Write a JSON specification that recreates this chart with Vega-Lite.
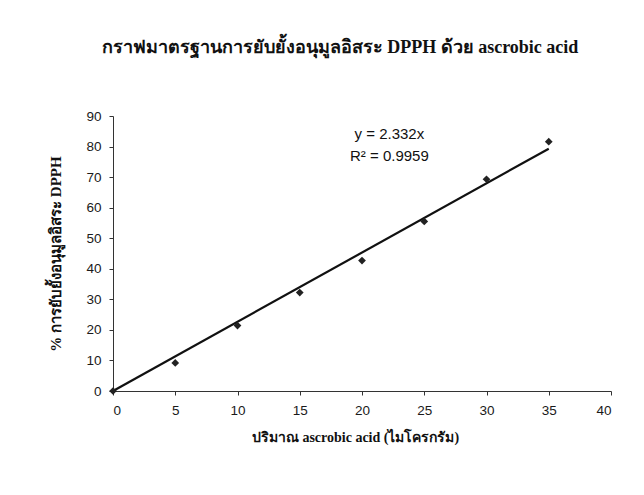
{
  "$schema": "https://vega.github.io/schema/vega-lite/v6.json",
  "width": 498,
  "height": 275,
  "autosize": "none",
  "padding": {"left": 113, "top": 116, "right": 33, "bottom": 104},
  "background": "white",
  "config": {
    "view": {"stroke": null},
    "axis": {"grid": false, "domainColor": "#333", "tickColor": "#333", "labelColor": "#1a1a1a", "titleColor": "#111", "labelFont": "Liberation Sans", "labelFontSize": 13.5, "tickSize": 4, "domainWidth": 1, "labelOverlap": false}
  },
  "title": {
    "text": "กราฟมาตรฐานการยับยั้งอนุมูลอิสระ DPPH ด้วย ascrobic acid",
    "font": "Liberation Serif",
    "fontSize": 18,
    "fontWeight": "bold",
    "color": "#111",
    "offset": 52,
    "dx": -22
  },
  "datasets": {
    "points": [
      {"x": 0, "y": 0},
      {"x": 5, "y": 9.2},
      {"x": 10, "y": 21.4},
      {"x": 15, "y": 32.2},
      {"x": 20, "y": 42.7},
      {"x": 25, "y": 55.5},
      {"x": 30, "y": 69.3},
      {"x": 35, "y": 81.6}
    ],
    "trend": [
      {"x": 0, "y": 0},
      {"x": 35, "y": 79.3}
    ],
    "label": [
      {"x": 22.2, "y": 84, "t": "y = 2.332x"},
      {"x": 22.2, "y": 76.8, "t": "R² = 0.9959"}
    ]
  },
  "encoding": {
    "x": {"field": "x", "type": "quantitative", "scale": {"domain": [0, 40], "nice": false},
      "axis": {"values": [0,5,10,15,20,25,30,35,40], "title": "ปริมาณ ascrobic acid (ไมโครกรัม)", "titleFont": "Liberation Serif", "titleFontSize": 14, "titleFontWeight": "bold", "titlePadding": 14, "labelPadding": 8, "titleX": 242}},
    "y": {"field": "y", "type": "quantitative", "scale": {"domain": [0, 90], "nice": false},
      "axis": {"values": [0,10,20,30,40,50,60,70,80,90], "tickCount": 10, "labelOverlap": false, "title": "% การยับยั้งอนุมูลอิสระ DPPH", "titleFont": "Liberation Serif", "titleFontSize": 15, "titleFontWeight": "bold", "titlePadding": 22, "labelPadding": 8}}
  },
  "layer": [
    {
      "data": {"name": "trend"},
      "mark": {"type": "line", "color": "#111", "strokeWidth": 2.2}
    },
    {
      "data": {"name": "points"},
      "mark": {"type": "point", "shape": "diamond", "filled": true, "color": "#222", "size": 60, "opacity": 1}
    },
    {
      "data": {"name": "label"},
      "mark": {"type": "text", "font": "Liberation Sans", "fontSize": 15, "color": "#111", "align": "center"},
      "encoding": {
        "text": {"field": "t"}
      }
    }
  ]
}
